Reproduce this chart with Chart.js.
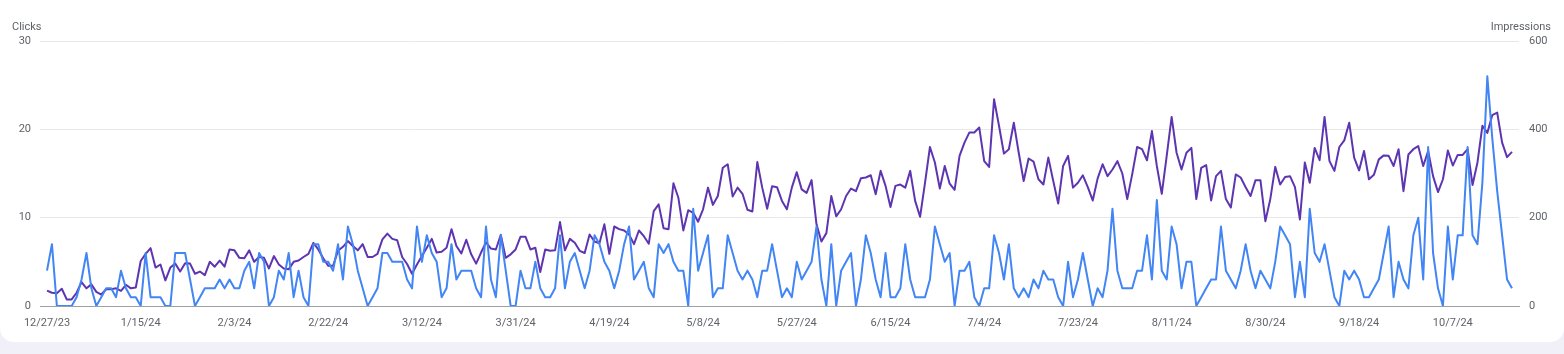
<!DOCTYPE html>
<html><head><meta charset="utf-8">
<script src="https://cdn.jsdelivr.net/npm/chart.js@4.4.1/dist/chart.umd.min.js"></script>
<style>
html,body{margin:0;padding:0;width:1564px;height:354px;overflow:hidden;background:#f1f0f8;}
#card{position:absolute;left:0;top:-20px;width:1564px;height:362px;background:#fff;border-radius:14px;}
#wrap{position:absolute;left:0;top:0;width:1564px;height:354px;}
.ttl{position:absolute;top:20px;font:11px Roboto, sans-serif;color:#5f6368;line-height:14px;white-space:nowrap;}
</style></head><body>
<div id="card"></div>
<div id="wrap"><canvas id="c" width="1564" height="354"></canvas></div>
<div class="ttl" style="left:12px">Clicks</div>
<div class="ttl" style="right:13px">Impressions</div>
<script>
const startDate = [2023, 12, 27];
const dayCount = 298;
const tickLabels = ['12/27/23','1/15/24','2/3/24','2/22/24','3/12/24','3/31/24','4/19/24','5/8/24','5/27/24','6/15/24','7/4/24','7/23/24','8/11/24','8/30/24','9/18/24','10/7/24'];
const leftTicks = [0, 10, 20, 30];
const rightTicks = [0, 200, 400, 600];

const clicks = [
  4,7,0,0,0,0,1,3,6,2,0,1,2,2,1,4,2,1,1,0,6,1,1,
  1,0,0,6,6,6,3,0,1,2,2,2,3,2,3,2,2,4,5,2,6,5,0,1,4,
  3,6,1,4,1,0,7,7,5,5,4,7,3,9,7,4,2,0,1,2,6,6,5,5,5,
  3,2,9,5,8,6,5,1,2,7,3,4,4,4,2,1,9,3,1,8,4,0,0,4,2,
  2,5,2,1,1,2,8,2,5,6,4,2,4,8,7,5,4,2,4,7,9,3,4,5,2,1,
  7,6,7,5,4,4,0,11,4,6,8,1,2,2,8,6,4,3,4,3,1,4,4,7,4,
  1,2,1,5,3,4,5,9,3,0,7,0,4,5,6,0,3,8,6,3,1,6,1,1,2,
  7,3,1,1,1,3,9,7,5,6,0,4,4,5,1,0,2,2,8,6,3,7,2,1,2,1,
  3,2,4,3,3,1,0,5,1,3,6,3,0,2,1,4,11,4,2,2,2,4,4,8,3,
  12,4,3,9,7,2,5,5,0,1,2,3,3,9,4,3,2,4,7,4,2,4,3,2,5,9,
  8,7,1,5,1,11,6,5,7,4,1,0,4,3,4,3,1,1,2,3,6,9,1,5,3,
  2,8,10,3,18,6,2,0,9,3,8,8,18,8,7,14,26,19,13,8,3,2
];
const impressions = [
  35,30,29,39,15,15,30,54,40,49,32,26,38,38,40,34,48,40,42,102,118,131,87,
  94,58,87,96,78,97,96,73,78,70,100,89,103,89,128,126,109,108,126,100,111,109,85,113,94,
  85,83,100,103,111,118,143,128,108,91,91,125,134,147,136,126,140,111,111,118,151,164,152,149,111,
  95,73,94,113,132,152,121,123,132,174,136,119,150,117,96,121,144,130,128,161,109,117,128,157,157,
  128,132,77,128,125,126,190,126,152,143,125,120,162,146,142,185,118,180,174,171,162,140,171,158,141,215,
  230,176,174,278,245,171,217,211,191,219,268,229,249,313,321,248,268,254,218,214,326,268,220,271,269,
  238,219,268,303,264,256,285,185,146,165,249,203,219,249,266,260,289,291,296,253,306,272,224,272,275,
  268,306,238,202,279,360,325,266,317,277,263,340,370,393,393,404,328,315,468,408,345,355,415,347,283,334,
  327,287,275,336,283,232,317,340,268,279,296,269,239,289,321,294,309,328,300,242,298,360,355,330,396,
  317,254,340,428,347,309,347,358,242,313,319,239,294,306,242,223,298,291,269,249,285,285,192,242,315,275,
  292,294,269,196,325,279,358,330,428,328,306,360,375,415,336,307,351,287,297,332,341,340,317,355,260,
  343,355,362,317,351,294,258,287,352,318,342,342,355,274,325,408,392,432,438,370,337,349
];

const categories = [];
for (let i = 0; i < dayCount; i++) {
  const d = new Date(startDate[0], startDate[1] - 1, startDate[2] + i);
  categories.push((d.getMonth() + 1) + '/' + d.getDate() + '/' + String(d.getFullYear()).slice(2));
}
const tickIdx = tickLabels.map(l => categories.indexOf(l));

const TXT = '#5f6368';
const FONT = {family: 'Roboto, sans-serif', size: 11};

new Chart(document.getElementById('c'), {
  type: 'line',
  data: {
    datasets: [
      {label: 'Clicks', data: clicks.map((v, i) => ({x: i, y: v})), yAxisID: 'y',
       borderColor: '#4285F4', borderWidth: 2, pointRadius: 0, tension: 0, borderJoinStyle: 'round', fill: false},
      {label: 'Impressions', data: impressions.map((v, i) => ({x: i, y: v})), yAxisID: 'y1',
       borderColor: '#5E35B1', borderWidth: 2, pointRadius: 0, tension: 0, borderJoinStyle: 'round', fill: false}
    ]
  },
  options: {
    responsive: false,
    animation: false,
    devicePixelRatio: 1,
    layout: {padding: {top: 41, left: 0, right: 0, bottom: 0}},
    plugins: {legend: {display: false}, tooltip: {enabled: false}},
    scales: {
      x: {
        type: 'linear', min: -1.42, max: dayCount - 1 + 1.42,
        afterBuildTicks: s => { s.ticks = tickIdx.map(v => ({value: v})); },
        afterFit: s => { s.height = 48; },
        ticks: {autoSkip: false, maxRotation: 0, padding: 11, color: TXT, font: FONT,
                callback: (v) => categories[v] || ''},
        grid: {display: false, drawTicks: false},
        border: {display: true, color: '#9aa0a6', width: 1}
      },
      y: {
        position: 'left', min: 0, max: 30,
        afterBuildTicks: s => { s.ticks = leftTicks.map(v => ({value: v})); },
        afterFit: s => { s.width = 40; },
        ticks: {padding: 9, color: TXT, font: FONT},
        grid: {drawTicks: false, color: c => c.tick && c.tick.value === 0 ? '#9aa0a6' : '#e8e8e8', lineWidth: 1},
        border: {display: false}
      },
      y1: {
        position: 'right', min: 0, max: 600,
        afterBuildTicks: s => { s.ticks = rightTicks.map(v => ({value: v})); },
        afterFit: s => { s.width = 45; },
        ticks: {padding: 10, color: TXT, font: FONT},
        grid: {display: false, drawTicks: false, drawOnChartArea: false},
        border: {display: false}
      }
    }
  }
});
</script>
</body></html>
